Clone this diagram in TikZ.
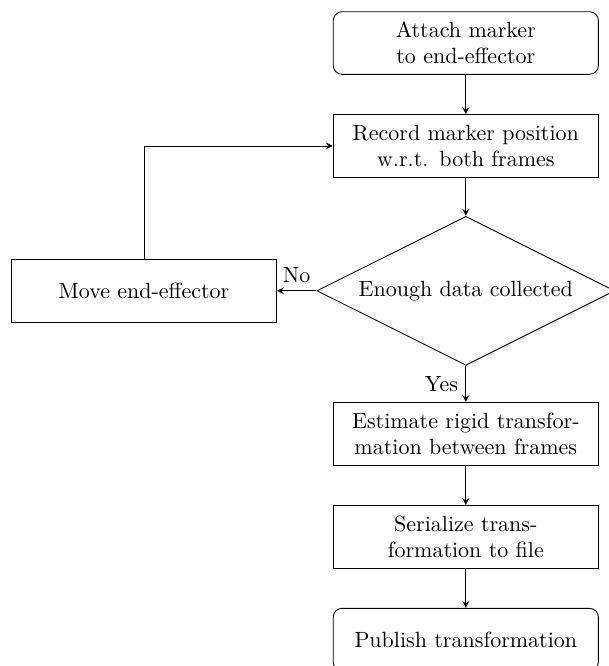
\documentclass[tikz,border=0pt]{standalone}
\usetikzlibrary{positioning,shapes.geometric,arrows}

\begin{document}
\begin{tikzpicture}[node distance=0.63cm,
          startstop/.style={rectangle, rounded corners, draw, text width=4cm, minimum height=1cm, align=center},
          process/.style={rectangle, draw, text width=4cm, minimum height=1cm, align=center},
          decision/.style={diamond, draw, aspect=2, align=center},
          arrow/.style={->, >=stealth}]
          \useasboundingbox (-7.44,0.687) rectangle (2.284,-9.95);
          \node[startstop] (attach) at (0,0) {Attach marker to end-effector};
          \node[process, below=of attach] (record) {Record marker position w.r.t. both frames};
          \node[decision, below=0.61cm of record] (enough) {Enough data collected};
          \node[process, left=of enough] (move) {Move end-effector};
          \node[process, below=0.58cm of enough] (estimate) {Estimate rigid transformation between frames};
          \node[process, below=of estimate] (serialize) {Serialize transformation to file};
          \node[startstop, below=of serialize] (publish) {Publish transformation};

          \draw[arrow] (attach) -- (record);
          \draw[arrow] (record) -- (enough);
          \draw[arrow] (enough) -- node[above] {No} (move);
          \draw[arrow] (move) |- (record);
          \draw[arrow] (enough) -- node[left] {Yes} (estimate);
          \draw[arrow] (estimate) -- (serialize);
          \draw[arrow] (serialize) -- (publish);
        \end{tikzpicture}
\end{document}
